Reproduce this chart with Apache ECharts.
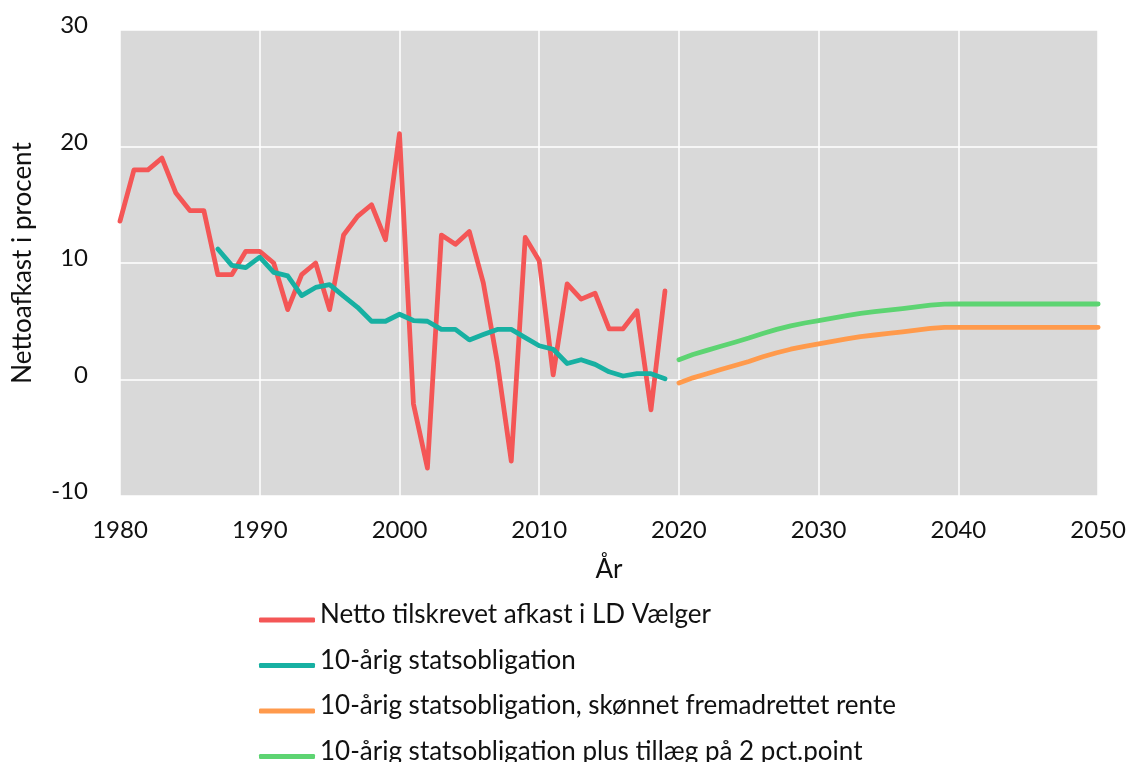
<!DOCTYPE html>
<html>
<head>
<meta charset="utf-8">
<script src="https://cdn.jsdelivr.net/npm/echarts@6/dist/echarts.min.js"></script>
<style>
html,body{margin:0;padding:0;background:#fff;}
#chart{width:1129px;height:762px;}
</style>
</head>
<body>
<div id="chart"></div>
<script>
const seriesNames = [
  'Netto tilskrevet afkast i LD Vælger',
  '10-årig statsobligation',
  '10-årig statsobligation, skønnet fremadrettet rente',
  '10-årig statsobligation plus tillæg på 2 pct.point'
];
const xTicks = [1980, 1990, 2000, 2010, 2020, 2030, 2040, 2050];
const yTicks = [-10, 0, 10, 20, 30];

const yearsLD = [1980,1981,1982,1983,1984,1985,1986,1987,1988,1989,1990,1991,1992,1993,1994,1995,1996,1997,1998,1999,
                 2000,2001,2002,2003,2004,2005,2006,2007,2008,2009,2010,2011,2012,2013,2014,2015,2016,2017,2018,2019];
const valuesLD = [13.6,18.0,18.0,19.0,16.0,14.5,14.5,9.0,9.0,11.0,11.0,10.0,6.0,9.0,10.0,6.0,12.4,14.0,15.0,12.0,
                  21.1,-2.1,-7.6,12.4,11.6,12.7,8.3,1.5,-7.0,12.2,10.2,0.4,8.2,6.9,7.4,4.35,4.35,5.9,-2.6,7.6];

const yearsBond = [1987,1988,1989,1990,1991,1992,1993,1994,1995,1996,1997,1998,1999,
                   2000,2001,2002,2003,2004,2005,2006,2007,2008,2009,2010,2011,2012,2013,2014,2015,2016,2017,2018,2019];
const valuesBond = [11.2,9.8,9.6,10.5,9.2,8.9,7.2,7.9,8.15,7.15,6.2,5.0,5.0,
                    5.6,5.06,5.0,4.3,4.3,3.4,3.86,4.3,4.3,3.6,2.9,2.6,1.37,1.7,1.3,0.66,0.3,0.5,0.5,0.06];

const yearsFwd = [2020,2021,2022,2023,2024,2025,2026,2027,2028,2029,2030,2031,2032,2033,2034,2035,
                  2036,2037,2038,2039,2040,2041,2042,2043,2044,2045,2046,2047,2048,2049,2050];
const valuesFwd = [-0.3,0.14,0.5,0.86,1.2,1.55,1.95,2.3,2.6,2.85,3.05,3.27,3.48,3.68,3.82,3.95,
                   4.09,4.23,4.38,4.47,4.48,4.48,4.48,4.48,4.48,4.48,4.48,4.48,4.48,4.48,4.48];
const valuesPlus = [1.7,2.14,2.5,2.86,3.2,3.56,3.95,4.3,4.6,4.85,5.06,5.27,5.48,5.68,5.82,5.95,
                    6.09,6.23,6.38,6.47,6.48,6.48,6.48,6.48,6.48,6.48,6.48,6.48,6.48,6.48,6.48];

const colors = ['#f45656', '#17b0a2', '#ff9a4c', '#5dd472'];

function pairs(xs, ys){ return xs.map((x,i)=>[x, ys[i]]); }

const FONT = 'Lato';
const chart = echarts.init(document.getElementById('chart'));
const lineStyle = (c)=>({color:c, width:4.8, cap:'round', join:'round'});
chart.setOption({
  animation:false,
  backgroundColor:'#ffffff',
  textStyle:{fontFamily:FONT},
  grid:{left:120, right:29, top:30, bottom:266, show:true, backgroundColor:'#d9d9d9', borderWidth:0},
  xAxis:{
    type:'value', min:xTicks[0], max:xTicks[xTicks.length-1], interval:10,
    name:'År', nameLocation:'middle', nameGap:61,
    nameTextStyle:{fontSize:26, color:'#111', fontFamily:FONT},
    axisLine:{show:false}, axisTick:{show:false},
    axisLabel:{fontSize:24, color:'#111', margin:22, fontFamily:FONT, formatter:(v)=>String(v)},
    splitLine:{show:true, lineStyle:{color:'#ffffff', width:1.5}}
  },
  yAxis:{
    type:'value', min:yTicks[0], max:yTicks[yTicks.length-1], interval:10,
    name:'Nettoafkast i procent', nameLocation:'middle', nameGap:84,
    nameTextStyle:{fontSize:26, color:'#111', fontFamily:FONT},
    axisLine:{show:false}, axisTick:{show:false},
    axisLabel:{
      color:'#111', margin:32, fontFamily:FONT,
      formatter:(v)=>'{n|' + v + '}\n{s| }',
      rich:{
        n:{fontSize:24, lineHeight:26, color:'#111', fontFamily:FONT, align:'right'},
        s:{fontSize:1, lineHeight:9, align:'right'}
      }
    },
    splitLine:{show:true, lineStyle:{color:'#ffffff', width:1.5}}
  },
  legend:{
    orient:'vertical', left:254, top:597, height:220,
    itemWidth:56, itemHeight:5, itemGap:14,
    icon:'roundRect',
    formatter:(name)=>'{t|' + name + '}\n{s| }',
    textStyle:{
      fontSize:26, color:'#111', fontFamily:FONT,
      rich:{
        t:{fontSize:26, lineHeight:26, color:'#111', fontFamily:FONT},
        s:{fontSize:1, lineHeight:10}
      }
    },
    data:seriesNames
  },
  series:[
    {name:seriesNames[0], type:'line', data:pairs(yearsLD, valuesLD), showSymbol:false, symbol:'none', color:colors[0], lineStyle:lineStyle(colors[0]), z:3},
    {name:seriesNames[1], type:'line', data:pairs(yearsBond, valuesBond), showSymbol:false, symbol:'none', color:colors[1], lineStyle:lineStyle(colors[1]), z:4},
    {name:seriesNames[2], type:'line', data:pairs(yearsFwd, valuesFwd), showSymbol:false, symbol:'none', color:colors[2], lineStyle:lineStyle(colors[2]), z:3},
    {name:seriesNames[3], type:'line', data:pairs(yearsFwd, valuesPlus), showSymbol:false, symbol:'none', color:colors[3], lineStyle:lineStyle(colors[3]), z:3}
  ]
});
</script>
</body>
</html>
